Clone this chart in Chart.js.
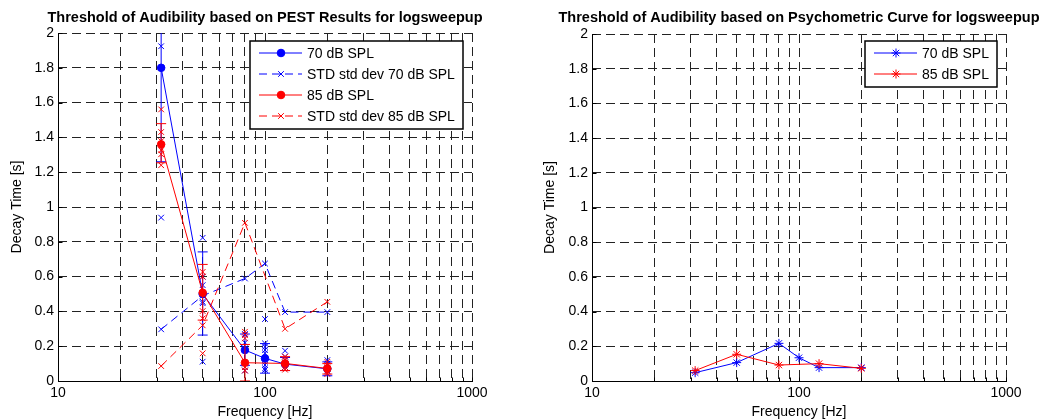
<!DOCTYPE html>
<html>
<head>
<meta charset="utf-8">
<title>Threshold of Audibility</title>
<script src="https://cdn.jsdelivr.net/npm/chart.js@4.4.1/dist/chart.umd.min.js"></script>
<style>
  html, body { margin: 0; padding: 0; background: #fff; }
  .panel { position: absolute; top: 0; width: 520px; height: 419px; }
  #left { left: 0; }
  #right { left: 520px; }
</style>
</head>
<body>
<div class="panel" id="left"><canvas id="pestChart" width="520" height="419"></canvas></div>
<div class="panel" id="right"><canvas id="psyChart" width="520" height="419"></canvas></div>
<script>
"use strict";

// frequencies (Hz)
const freqs70 = [31.5, 50, 80, 100, 125, 200];
const freqs85 = [31.5, 50, 80, 125, 200];

// PEST results, decay time (s)
const pest70 = [1.8, 0.5, 0.178, 0.13, 0.097, 0.07];
const pestStd70 = [0.297, 0.49, 0.589, 0.675, 0.396, 0.396];
const pest85 = [1.36, 0.507, 0.105, 0.101, 0.072];
const pestStd85 = [0.086, 0.32, 0.909, 0.3, 0.455];

// error bars
const err70Low = [1.26, 0.264, 0.09, 0.045, 0.06, 0.03];
const err70High = [2.34, 0.742, 0.27, 0.215, 0.135, 0.11];
const err85Low = [1.254, 0.35, 0.0, 0.06, 0.04];
const err85High = [1.479, 0.67, 0.21, 0.14, 0.1];

// single runs (x markers)
const runs70Freq = [31.5, 31.5, 50, 50, 50, 50, 50, 50, 80, 80, 80, 80, 80,
  100, 100, 100, 100, 100, 100, 100, 100, 100, 125, 125, 125, 125, 200, 200, 200, 200];
const runs70 = [1.924, 0.939, 0.823, 0.599, 0.551, 0.455, 0.447, 0.111, 0.27, 0.22, 0.1, 0.08, 0.06,
  0.356, 0.216, 0.197, 0.178, 0.159, 0.111, 0.092, 0.073, 0.063, 0.174, 0.14, 0.12, 0.08, 0.12, 0.1, 0.06, 0.045];
const runs85Freq = [31.5, 31.5, 31.5, 31.5, 31.5, 31.5, 50, 50, 50, 50, 50, 80, 80, 80, 80, 80,
  125, 125, 125, 125, 200, 200, 200, 200];
const runs85 = [1.561, 1.431, 1.379, 1.326, 1.303, 1.24, 0.627, 0.6, 0.402, 0.36, 0.159, 0.283, 0.264, 0.245, 0.08, 0.06,
  0.14, 0.12, 0.08, 0.065, 0.11, 0.09, 0.055, 0.04];

// psychometric curve results
const psy70 = [0.048, 0.106, 0.217, 0.134, 0.077, 0.077];
const psy85 = [0.06, 0.154, 0.092, 0.1, 0.073];

// axes
const xGridTicks = [10, 20, 30, 40, 50, 60, 70, 80, 90, 100, 200, 300, 400, 500, 600, 700, 800, 900, 1000];
const xLabelTicks = [10, 100, 1000];
const yTicks = [0, 0.2, 0.4, 0.6, 0.8, 1, 1.2, 1.4, 1.6, 1.8, 2];

const BLUE = "#0000ff";
const RED = "#ff0000";
const FONT = "'Liberation Sans', Arial, Helvetica, sans-serif";

Chart.defaults.font.family = FONT;
Chart.defaults.font.size = 14;
Chart.defaults.color = "#000";

const pts = (xs, ys) => xs.map((x, i) => ({ x: x, y: ys[i] }));

function errorBars(xs, lows, highs, color, order) {
  return xs.map((x, i) => ({
    data: [{ x: x, y: lows[i] }, { x: x, y: highs[i] }],
    borderColor: color,
    borderWidth: 1,
    pointStyle: "line",
    pointRadius: 5,
    pointBorderColor: color,
    pointBorderWidth: 1,
    order: order,
  }));
}

function drawMarker(ctx, style, x, y, r, color) {
  ctx.save();
  ctx.setLineDash([]);
  ctx.strokeStyle = color;
  ctx.fillStyle = color;
  ctx.lineWidth = 1;
  ctx.beginPath();
  const d = r * Math.SQRT1_2;
  if (style === "circle") {
    ctx.arc(x, y, r, 0, Math.PI * 2);
    ctx.fill();
  } else {
    ctx.moveTo(x - d, y - d); ctx.lineTo(x + d, y + d);
    ctx.moveTo(x - d, y + d); ctx.lineTo(x + d, y - d);
    if (style === "star") {
      ctx.moveTo(x - r, y); ctx.lineTo(x + r, y);
      ctx.moveTo(x, y - r); ctx.lineTo(x, y + r);
    }
  }
  ctx.stroke();
  ctx.restore();
}

// matlab style frame: title, solid left/bottom axis with inner ticks, boxed legend
const matlabFrame = {
  id: "matlabFrame",
  beforeDatasetsDraw(chart) {
    const ctx = chart.ctx;
    const a = chart.chartArea;
    const xs = chart.scales.x;
    const ys = chart.scales.y;
    ctx.save();
    ctx.setLineDash([]);
    ctx.strokeStyle = "#000";
    ctx.lineWidth = 1;
    ctx.beginPath();
    const l = Math.round(a.left) + 0.5;
    const b = Math.round(a.bottom) + 0.5;
    ctx.moveTo(l, Math.round(a.top));
    ctx.lineTo(l, b);
    ctx.lineTo(Math.round(a.right) + 1, b);
    xGridTicks.forEach((v) => {
      const px = Math.round(xs.getPixelForValue(v)) + 0.5;
      ctx.moveTo(px, b);
      ctx.lineTo(px, b - 4);
    });
    yTicks.forEach((v) => {
      const py = Math.round(ys.getPixelForValue(v)) + 0.5;
      ctx.moveTo(l, py);
      ctx.lineTo(l + 4, py);
    });
    ctx.stroke();
    ctx.restore();
  },
  afterDraw(chart, args, opts) {
    const ctx = chart.ctx;
    const a = chart.chartArea;
    ctx.save();
    ctx.fillStyle = "#000";
    ctx.font = "bold 14.5px " + FONT;
    ctx.textAlign = "center";
    ctx.textBaseline = "alphabetic";
    ctx.fillText(opts.title, (a.left + a.right) / 2, 22);

    const items = chart.data.datasets.filter((d) => d.label);
    ctx.font = "14px " + FONT;
    const textW = Math.max(...items.map((d) => ctx.measureText(d.label).width));
    const right = Math.round(a.right) - 9;
    const left = Math.round(right - (57 + textW + 8));
    const top = 41;
    const h = items.length * 21 + 4;
    ctx.fillStyle = "#fff";
    ctx.fillRect(left, top, right - left, h);
    ctx.strokeStyle = "#000";
    ctx.lineWidth = 1.5;
    ctx.setLineDash([]);
    ctx.strokeRect(left, top, right - left, h);
    items.forEach((d, i) => {
      const y = top + 12 + i * 21;
      ctx.save();
      ctx.strokeStyle = d.borderColor;
      ctx.lineWidth = 1;
      ctx.setLineDash(d.borderDash || []);
      ctx.beginPath();
      ctx.moveTo(left + 9, y);
      ctx.lineTo(left + 52, y);
      ctx.stroke();
      ctx.restore();
      drawMarker(ctx, d.pointStyle, left + 31, y, d.pointRadius, d.borderColor);
      ctx.fillStyle = "#000";
      ctx.textAlign = "left";
      ctx.textBaseline = "middle";
      ctx.fillText(d.label, left + 57, y + 1);
    });
    ctx.restore();
  },
};

function makeOptions(padLeft, yWidth, padRight, padTop, titleText) {
  const grid = { color: "#222", lineWidth: 1, drawTicks: false };
  const border = { display: false, dash: [9, 5] };
  return {
    responsive: false,
    animation: false,
    events: [],
    layout: { padding: { left: padLeft, right: padRight, top: padTop, bottom: 0 } },
    plugins: {
      legend: { display: false },
      tooltip: { enabled: false },
      matlabFrame: { title: titleText },
    },
    scales: {
      x: {
        type: "logarithmic",
        min: 10,
        max: 1000,
        afterBuildTicks: (s) => { s.ticks = xGridTicks.map((v) => ({ value: v })); },
        afterFit: (s) => { s.height = 38; },
        ticks: {
          autoSkip: false,
          maxRotation: 0,
          padding: 4,
          color: "#000",
          callback: (v) => (xLabelTicks.includes(v) ? String(v) : ""),
        },
        grid: grid,
        border: border,
        title: { display: true, text: "Frequency [Hz]", color: "#000", padding: 0, font: { size: 14, lineHeight: 1 } },
      },
      y: {
        type: "linear",
        min: 0,
        max: 2,
        afterBuildTicks: (s) => { s.ticks = yTicks.map((v) => ({ value: v })); },
        afterFit: (s) => { s.width = yWidth; },
        ticks: { padding: 4, color: "#000", callback: (v) => String(+v.toFixed(1)) },
        grid: grid,
        border: border,
        title: { display: true, text: "Decay Time [s]", color: "#000", padding: { top: 8.6, bottom: 0 }, font: { size: 14 } },
      },
    },
  };
}

// left: PEST results
new Chart(document.getElementById("pestChart").getContext("2d"), {
  type: "line",
  data: {
    datasets: [
      {
        label: "70 dB SPL",
        data: pts(freqs70, pest70),
        borderColor: BLUE,
        backgroundColor: BLUE,
        borderWidth: 1,
        pointStyle: "circle",
        pointRadius: 3.8,
        pointBorderWidth: 1,
        order: 5,
      },
      {
        label: "STD std dev 70 dB SPL",
        data: pts(freqs70, pestStd70),
        borderColor: BLUE,
        borderWidth: 1,
        borderDash: [8, 5],
        pointStyle: "crossRot",
        pointRadius: 4,
        pointBorderWidth: 1,
        order: 8,
      },
      {
        label: "85 dB SPL",
        data: pts(freqs85, pest85),
        borderColor: RED,
        backgroundColor: RED,
        borderWidth: 1,
        pointStyle: "circle",
        pointRadius: 3.8,
        pointBorderWidth: 1,
        order: 1,
      },
      {
        label: "STD std dev 85 dB SPL",
        data: pts(freqs85, pestStd85),
        borderColor: RED,
        borderWidth: 1,
        borderDash: [8, 5],
        pointStyle: "crossRot",
        pointRadius: 4,
        pointBorderWidth: 1,
        order: 4,
      },
      {
        data: pts(runs70Freq, runs70),
        showLine: false,
        borderColor: BLUE,
        pointStyle: "crossRot",
        pointRadius: 4,
        pointBorderWidth: 1,
        order: 7,
      },
      {
        data: pts(runs85Freq, runs85),
        showLine: false,
        borderColor: RED,
        pointStyle: "crossRot",
        pointRadius: 4,
        pointBorderWidth: 1,
        order: 3,
      },
      ...errorBars(freqs70, err70Low, err70High, BLUE, 6),
      ...errorBars(freqs85, err85Low, err85High, RED, 2),
    ],
  },
  options: makeOptions(0, 58, 48, 33, "Threshold of Audibility based on PEST Results for logsweepup"),
  plugins: [matlabFrame],
});

// right: psychometric curve
new Chart(document.getElementById("psyChart").getContext("2d"), {
  type: "line",
  data: {
    datasets: [
      {
        label: "70 dB SPL",
        data: pts(freqs70, psy70),
        borderColor: BLUE,
        borderWidth: 1,
        pointStyle: "star",
        pointRadius: 4.5,
        pointBorderWidth: 1,
        order: 2,
      },
      {
        label: "85 dB SPL",
        data: pts(freqs85, psy85),
        borderColor: RED,
        borderWidth: 1,
        pointStyle: "star",
        pointRadius: 4.5,
        pointBorderWidth: 1,
        order: 1,
      },
    ],
  },
  options: makeOptions(13, 59, 34, 34, "Threshold of Audibility based on Psychometric Curve for logsweepup"),
  plugins: [matlabFrame],
});
</script>
</body>
</html>
